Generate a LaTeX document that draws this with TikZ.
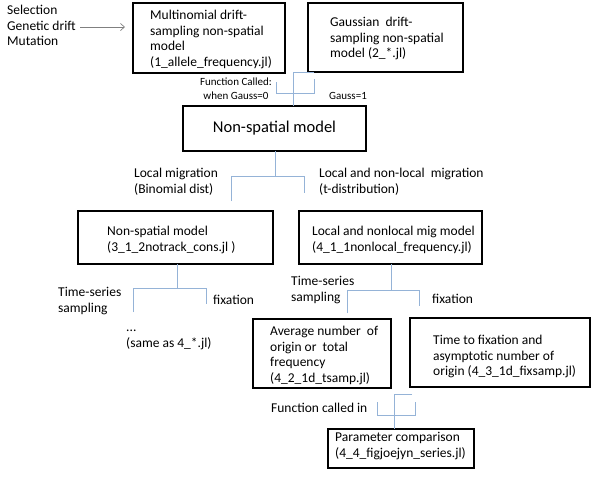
\documentclass[tikz,border=0pt]{standalone}
\usepackage{fontspec}
\setmainfont{Carlito}
\usetikzlibrary{arrows.meta,calc}
\definecolor{connblue}{RGB}{149,179,215}
\tikzset{
  bx/.style={draw=black,line width=1.8pt,rectangle,inner sep=0pt,outer sep=0pt},
  txt/.style={anchor=north west,inner sep=0pt,align=left,font=\fontsize{13.5}{15.7}\selectfont},
  small/.style={inner sep=0pt,align=center,font=\fontsize{11}{14}\selectfont},
  conn/.style={draw=connblue,line width=0.9pt},
}
\begin{document}
\begin{tikzpicture}[x=1pt,y=-1pt]
\useasboundingbox[fill=white] (0,0) rectangle (605,485);
% boxes
\node[bx,minimum width=152pt,minimum height=70pt] (b1) at (209,38) {};
\node[bx,minimum width=155pt,minimum height=69pt] (b2) at (385.5,37.5) {};
\node[bx,minimum width=183pt,minimum height=45pt,font=\fontsize{16.5}{20}\selectfont] (b3) at (274.5,128.5) {Non-spatial model};
\node[bx,minimum width=195pt,minimum height=53pt] (b4) at (175.5,237.5) {};
\node[bx,minimum width=183pt,minimum height=53pt] (b5) at (390.5,237.5) {};
\node[bx,minimum width=138pt,minimum height=69pt] (b6) at (322,353.5) {};
\node[bx,minimum width=180pt,minimum height=69pt] (b7) at (500,352.5) {};
\node[bx,minimum width=146pt,minimum height=39pt] (b8) at (401,448.5) {};
% texts
\node[txt] (sel) at (7,5) {Selection\\Genetic drift\\Mutation};
\node[txt] (t1) at (150,10) {Multinomial drift-\\sampling non-spatial\\model\\(1\_allele\_frequency.jl)};
\node[txt] (t2) at (330,17) {Gaussian\ \ drift-\\sampling non-spatial\\model (2\_*.jl)};
\node[small] (fc) at (236,89) {Function Called:\\when Gauss=0};
\node[small,anchor=west] (g1) at (329,96) {Gauss=1};
\node[txt] (lm) at (134,168) {Local migration\\(Binomial dist)};
\node[txt] (lnm) at (319,168) {Local and non-local\ \ migration\\(t-distribution)};
\node[txt] (t4) at (107,226) {Non-spatial model\\(3\_1\_2notrack\_cons.jl\ )};
\node[txt] (t5) at (312,226) {Local and nonlocal mig model\\(4\_1\_1nonlocal\_frequency.jl)};
\node[txt] (ts1) at (58,287) {Time-series\\sampling};
\node[txt] (fx1) at (213,295) {fixation};
\node[txt] (same) at (126,330) {...\\(same as 4\_*.jl)};
\node[txt] (ts2) at (291,276) {Time-series\\sampling};
\node[txt] (fx2) at (432,294) {fixation};
\node[txt] (t6) at (270,326) {Average number\ \ of\\origin or\ \ total\\frequency\\(4\_2\_1d\_tsamp.jl)};
\node[txt] (t7) at (433,335) {Time to fixation and\\asymptotic number of\\origin (4\_3\_1d\_fixsamp.jl)};
\node[txt] (fci) at (271,403) {Function called in};
\node[txt] (t8) at (335,432) {Parameter comparison\\(4\_4\_figjoejyn\_series.jl)};
% arrow
\coordinate (a0) at (80,27);
\draw[gray,line width=0.7pt,-{Straight Barb[length=4pt,width=7pt]}] (a0) -- ($(b1.west |- a0)+(-8,0)$);
% top connectors
\coordinate (j1) at (293,72);
\draw[conn] ($(b2.south west)+(6,0)$) -- (j1) -- (j1 |- b3.north);
\coordinate (k1) at (276,82);
\coordinate (k2) at (314,93);
\coordinate (k3) at (314,79);
\draw[conn] (k1) |- (k2) -- (k3);
% below b3
\coordinate (m1) at (275,176);
\coordinate (m2) at (231,201);
\coordinate (m3) at (304,193);
\draw[conn] (b3.south -| m1) -- (m1);
\draw[conn] (m2) |- (m3 |- m1) -- (m3);
% below b4
\coordinate (n1) at (177,288);
\coordinate (n2) at (133,312);
\coordinate (n3) at (206,304);
\draw[conn] (b4.south -| n1) -- (n1);
\draw[conn] (n2) |- (n3 |- n1) -- (n3);
% below b5
\coordinate (p1) at (391,290);
\coordinate (p2) at (347,313);
\coordinate (p3) at (419,306);
\draw[conn] (b5.south -| p1) -- (p1);
\draw[conn] (p2) |- (p3 |- p1) -- (p3);
% bottom connectors
\coordinate (q0) at (412,394);
\coordinate (q1) at (394,394);
\draw[conn] (q0) -- (q1) -- (q1 |- b8.north);
\coordinate (r1) at (377,402);
\coordinate (r2) at (415,415);
\coordinate (r3) at (415,402);
\draw[conn] (r1) |- (r2) -- (r3);
\end{tikzpicture}
\end{document}
